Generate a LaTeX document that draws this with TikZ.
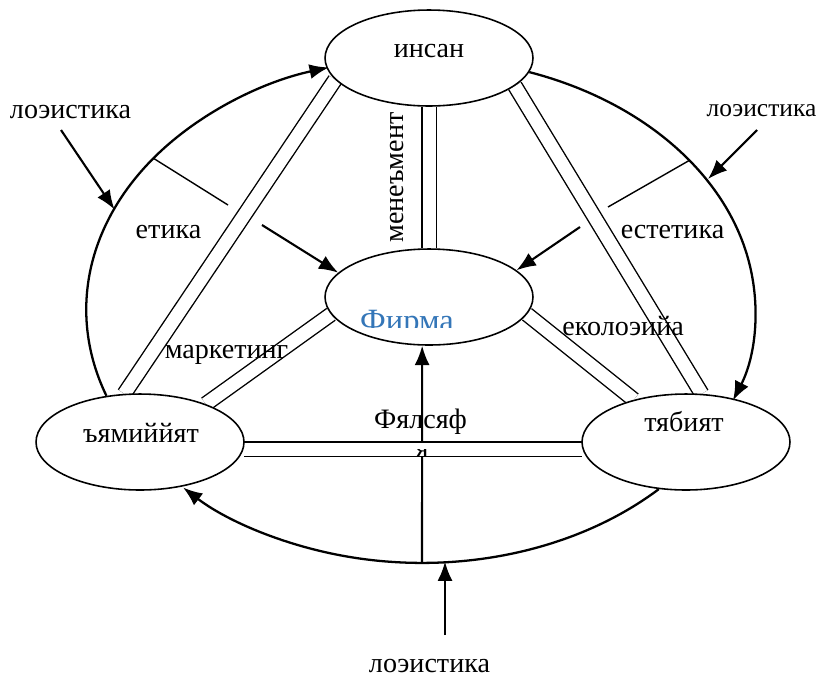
\documentclass[tikz,border=0pt]{standalone}
\usepackage{fontspec}
\setmainfont{Liberation Serif}
\usetikzlibrary{arrows.meta,shapes.geometric,backgrounds,calc}
\definecolor{firmablue}{RGB}{52,118,184}
\tikzset{
    ell/.style={ellipse,draw,line width=0.9pt,fill=white,minimum width=4.16cm,minimum height=1.92cm,inner sep=0pt},
    lbl/.style={font=\fontsize{16}{19}\selectfont,inner sep=0pt,anchor=base},
    dbl/.style={draw,line width=0.8pt,double distance=0.26cm},
    ringarrow/.style={line width=1.3pt,-{Latex[length=11pt,width=8.5pt]}},
    pointer/.style={line width=1.2pt,-{Latex[length=11pt,width=8.5pt]}},
    tick/.style={line width=0.8pt}
}
\begin{document}
\begin{tikzpicture}[x=0.02cm,y=0.02cm]
                \useasboundingbox (0,0) rectangle (820,-677);
                \node[ell] (insan) at (429,-58) {};
                \node[ell] (firma) at (429,-297) {};
                \node[ell] (jamiyyat) at (140,-442) {};
                \node[ell] (tabiyat) at (686,-442) {};
                
                \coordinate (ringbot) at (422,-562);
                \coordinate (etA) at (153,-158);
                \coordinate (etB) at (228,-205);
                \coordinate (etC) at (262,-225);
                \coordinate (esA) at (690,-160);
                \coordinate (esB) at (608,-207);
                \coordinate (esC) at (580,-227);
                \coordinate (logAfrom) at (61,-130);
                \coordinate (logAto) at (114.5,-209.5);
                \coordinate (logBfrom) at (757,-130);
                \coordinate (logBto) at (708,-179);
                \coordinate (logCfrom) at (445,-635);
                \coordinate (logCto) at (445,-561.5);
                
                \begin{scope}[on background layer]
                \draw[pointer] (ringbot) -- (firma.262);
                \draw[dbl] (insan.south) -- (firma.north);
                \draw[dbl] (insan.193) -- (jamiyyat.108);
                \draw[dbl] (insan.342) -- (tabiyat.72);
                \draw[dbl] (firma.190) -- (jamiyyat.30);
                \draw[dbl] (firma.350) -- (tabiyat.141);
                \draw[dbl] (jamiyyat.-4) -- (tabiyat.184);
                \end{scope}
                
                \draw[ringarrow] (jamiyyat.126) arc[start angle=200,end angle=106,x radius=6.7cm,y radius=5.04cm];
                \draw[ringarrow] (insan.-8) arc[start angle=71,end angle=-21,x radius=6.7cm,y radius=5.04cm];
                \draw[ringarrow] (tabiyat.240) arc[start angle=-45,end angle=-135.5,x radius=6.7cm,y radius=5.04cm];
                
                \draw[tick] (etA) -- (etB);
                \draw[pointer] (etC) -- (firma.165);
                \draw[tick] (esA) -- (esB);
                \draw[pointer] (esC) -- (firma.17);
                
                \draw[pointer] (logAfrom) -- (logAto);
                \draw[pointer] (logBfrom) -- (logBto);
                \draw[pointer] (logCfrom) -- (logCto);
                
                \node[lbl] (insanlbl) at (429,-57) {инсан};
                \node[lbl] (jamlbl) at (141,-442) {ъямиййят};
                \node[lbl] (tablbl) at (684,-431) {тябият};
                \node[lbl] (etika) at (168.5,-238) {етика};
                \node[lbl] (estetika) at (672.5,-238) {естетика};
                \node[lbl] (marketing) at (226.5,-358) {маркетинг};
                \node[lbl,anchor=base west] (ekoloji) at (562,-335) {еколоэийа};
                \node[lbl] (falsafa) at (420.5,-428) {Фялсяф};
                \node[lbl,rotate=90] (menejment) at (403,-177.5) {менеъмент};
                \node[lbl] (logA) at (70.5,-118) {лоэистика};
                \node[lbl,font=\fontsize{14.5}{17}\selectfont] (logB) at (761.5,-116) {лоэистика};
                \node[lbl] (logC) at (429.5,-672) {лоэистика};
                
                \begin{scope}
                \clip (340,-300) rectangle (480,-327);
                \node[lbl,font=\fontsize{18.5}{22}\selectfont,text=firmablue] (firmalbl) at (407,-331) {Фирма};
                \end{scope}
                \begin{scope}
                \clip (400,-449) rectangle (445,-462);
                \node[lbl] (falsafaend) at (422,-457) {я};
                \end{scope}
\end{tikzpicture}
\end{document}
